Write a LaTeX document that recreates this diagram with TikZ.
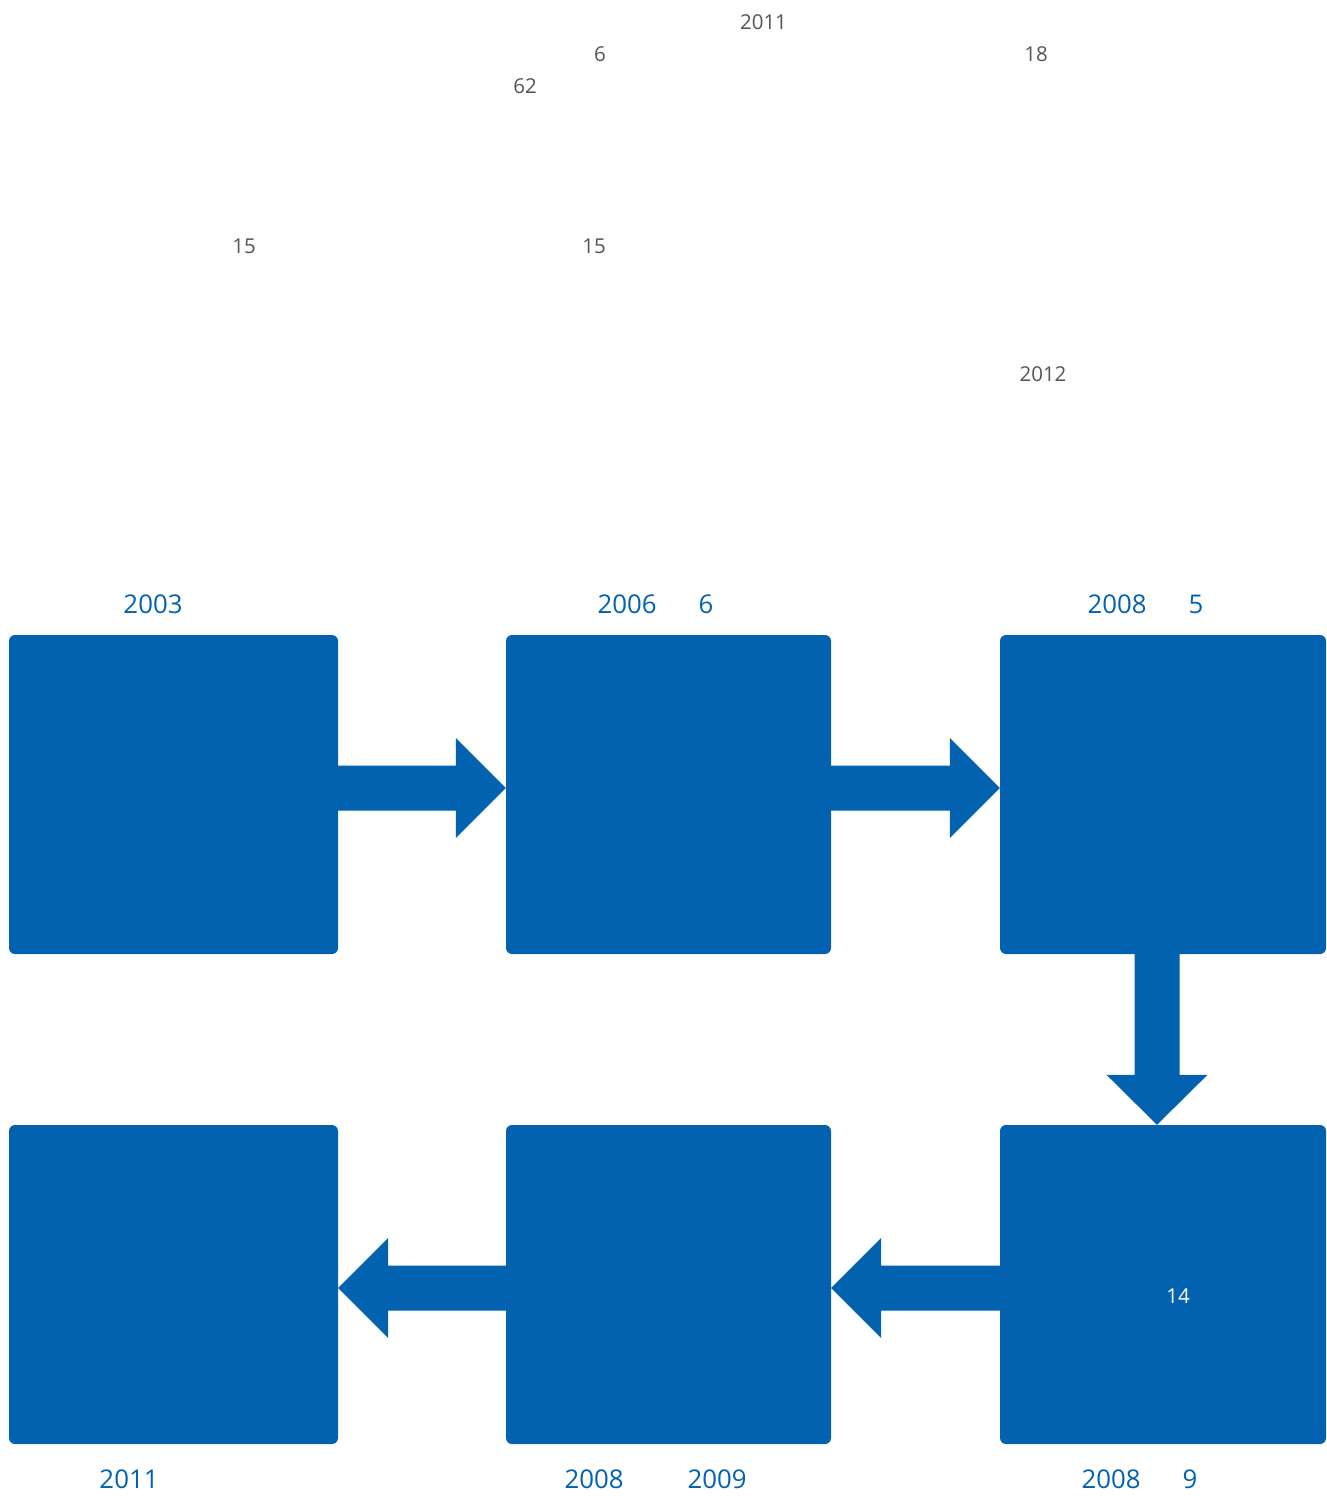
\documentclass[tikz,border=0pt]{standalone}
\usepackage{fontspec}
\setmainfont{Open Sans}
\usetikzlibrary{calc}
\definecolor{mblue}{HTML}{0262B0}
\definecolor{mgray}{HTML}{555555}
\tikzset{
  box/.style={fill=mblue, rounded corners=6pt, inner sep=0pt, minimum height=319pt},
  graytxt/.style={text=mgray, font=\fontsize{20.5}{24}\selectfont, inner sep=0pt},
  bluetxt/.style={text=mblue, font=\fontsize{25.8}{30}\selectfont, inner sep=0pt},
  whitetxt/.style={text=white, font=\fontsize{20.5}{24}\selectfont, inner sep=0pt},
}
% horizontal block arrow: #1 start node anchor, #2 tip node anchor, #3 vertical offset (pt, up), #4 direction (+1 right, -1 left)
\newcommand\hblockarrow[4]{%
  \fill[mblue] let \p1=(#1), \p2=(#2) in
    (\x1,\y1+#3+22.5pt) -- (\x2-#4*50pt,\y1+#3+22.5pt) -- (\x2-#4*50pt,\y1+#3+50pt)
    -- (\x2,\y1+#3) -- (\x2-#4*50pt,\y1+#3-50pt) -- (\x2-#4*50pt,\y1+#3-22.5pt)
    -- (\x1,\y1+#3-22.5pt) -- cycle;}
\newcommand\vblockarrow[3]{%
  \fill[mblue] let \p1=(#1), \p2=(#2) in
    (\x1+#3-22.5pt,\y1) -- (\x1+#3-22.5pt,\y2+50pt) -- (\x1+#3-50.5pt,\y2+50pt)
    -- (\x1+#3,\y2) -- (\x1+#3+50.5pt,\y2+50pt) -- (\x1+#3+22.5pt,\y2+50pt)
    -- (\x1+#3+22.5pt,\y1) -- cycle;}
\begin{document}
\begin{tikzpicture}[x=1pt,y=-1pt]
\useasboundingbox (0,0) rectangle (1327,1504);
% boxes
\node[box, minimum width=329pt] (b1) at (173.5,794.5) {};
\node[box, minimum width=325pt] (b2) at (668.5,794.5) {};
\node[box, minimum width=326pt] (b3) at (1163,794.5) {};
\node[box, minimum width=326pt] (b6) at (1163,1284.5) {};
\node[box, minimum width=325pt] (b5) at (668.5,1284.5) {};
\node[box, minimum width=329pt] (b4) at (173.5,1284.5) {};
% arrows
\hblockarrow{b1.east}{b2.west}{6.5pt}{1}
\hblockarrow{b2.east}{b3.west}{6.5pt}{1}
\vblockarrow{b3.south}{b6.north}{-6pt}
\hblockarrow{b6.west}{b5.east}{-3.5pt}{-1}
\hblockarrow{b5.west}{b4.east}{-3.5pt}{-1}
% gray texts
\node[graytxt] (g1) at (763.5,22) {2011};
\node[graytxt] (g2) at (600,54) {6};
\node[graytxt] (g3) at (1036,54) {18};
\node[graytxt] (g4) at (525,86) {62};
\node[graytxt] (g5) at (244,246) {15};
\node[graytxt] (g6) at (594,246) {15};
\node[graytxt] (g7) at (1043,374) {2012};
% blue labels
\node[bluetxt] (l1) at (153,604) {2003};
\node[bluetxt] (l2) at (627,604) {2006};
\node[bluetxt] (l3) at (706,604) {6};
\node[bluetxt] (l4) at (1117,604) {2008};
\node[bluetxt] (l5) at (1196,604) {5};
\node[bluetxt] (l6) at (129,1479) {2011};
\node[bluetxt] (l7) at (594,1479) {2008};
\node[bluetxt] (l8) at (717,1479) {2009};
\node[bluetxt] (l9) at (1111,1479) {2008};
\node[bluetxt] (l10) at (1190,1479) {9};
% white text
\node[whitetxt] (w1) at (1178,1296) {14};
\end{tikzpicture}
\end{document}
